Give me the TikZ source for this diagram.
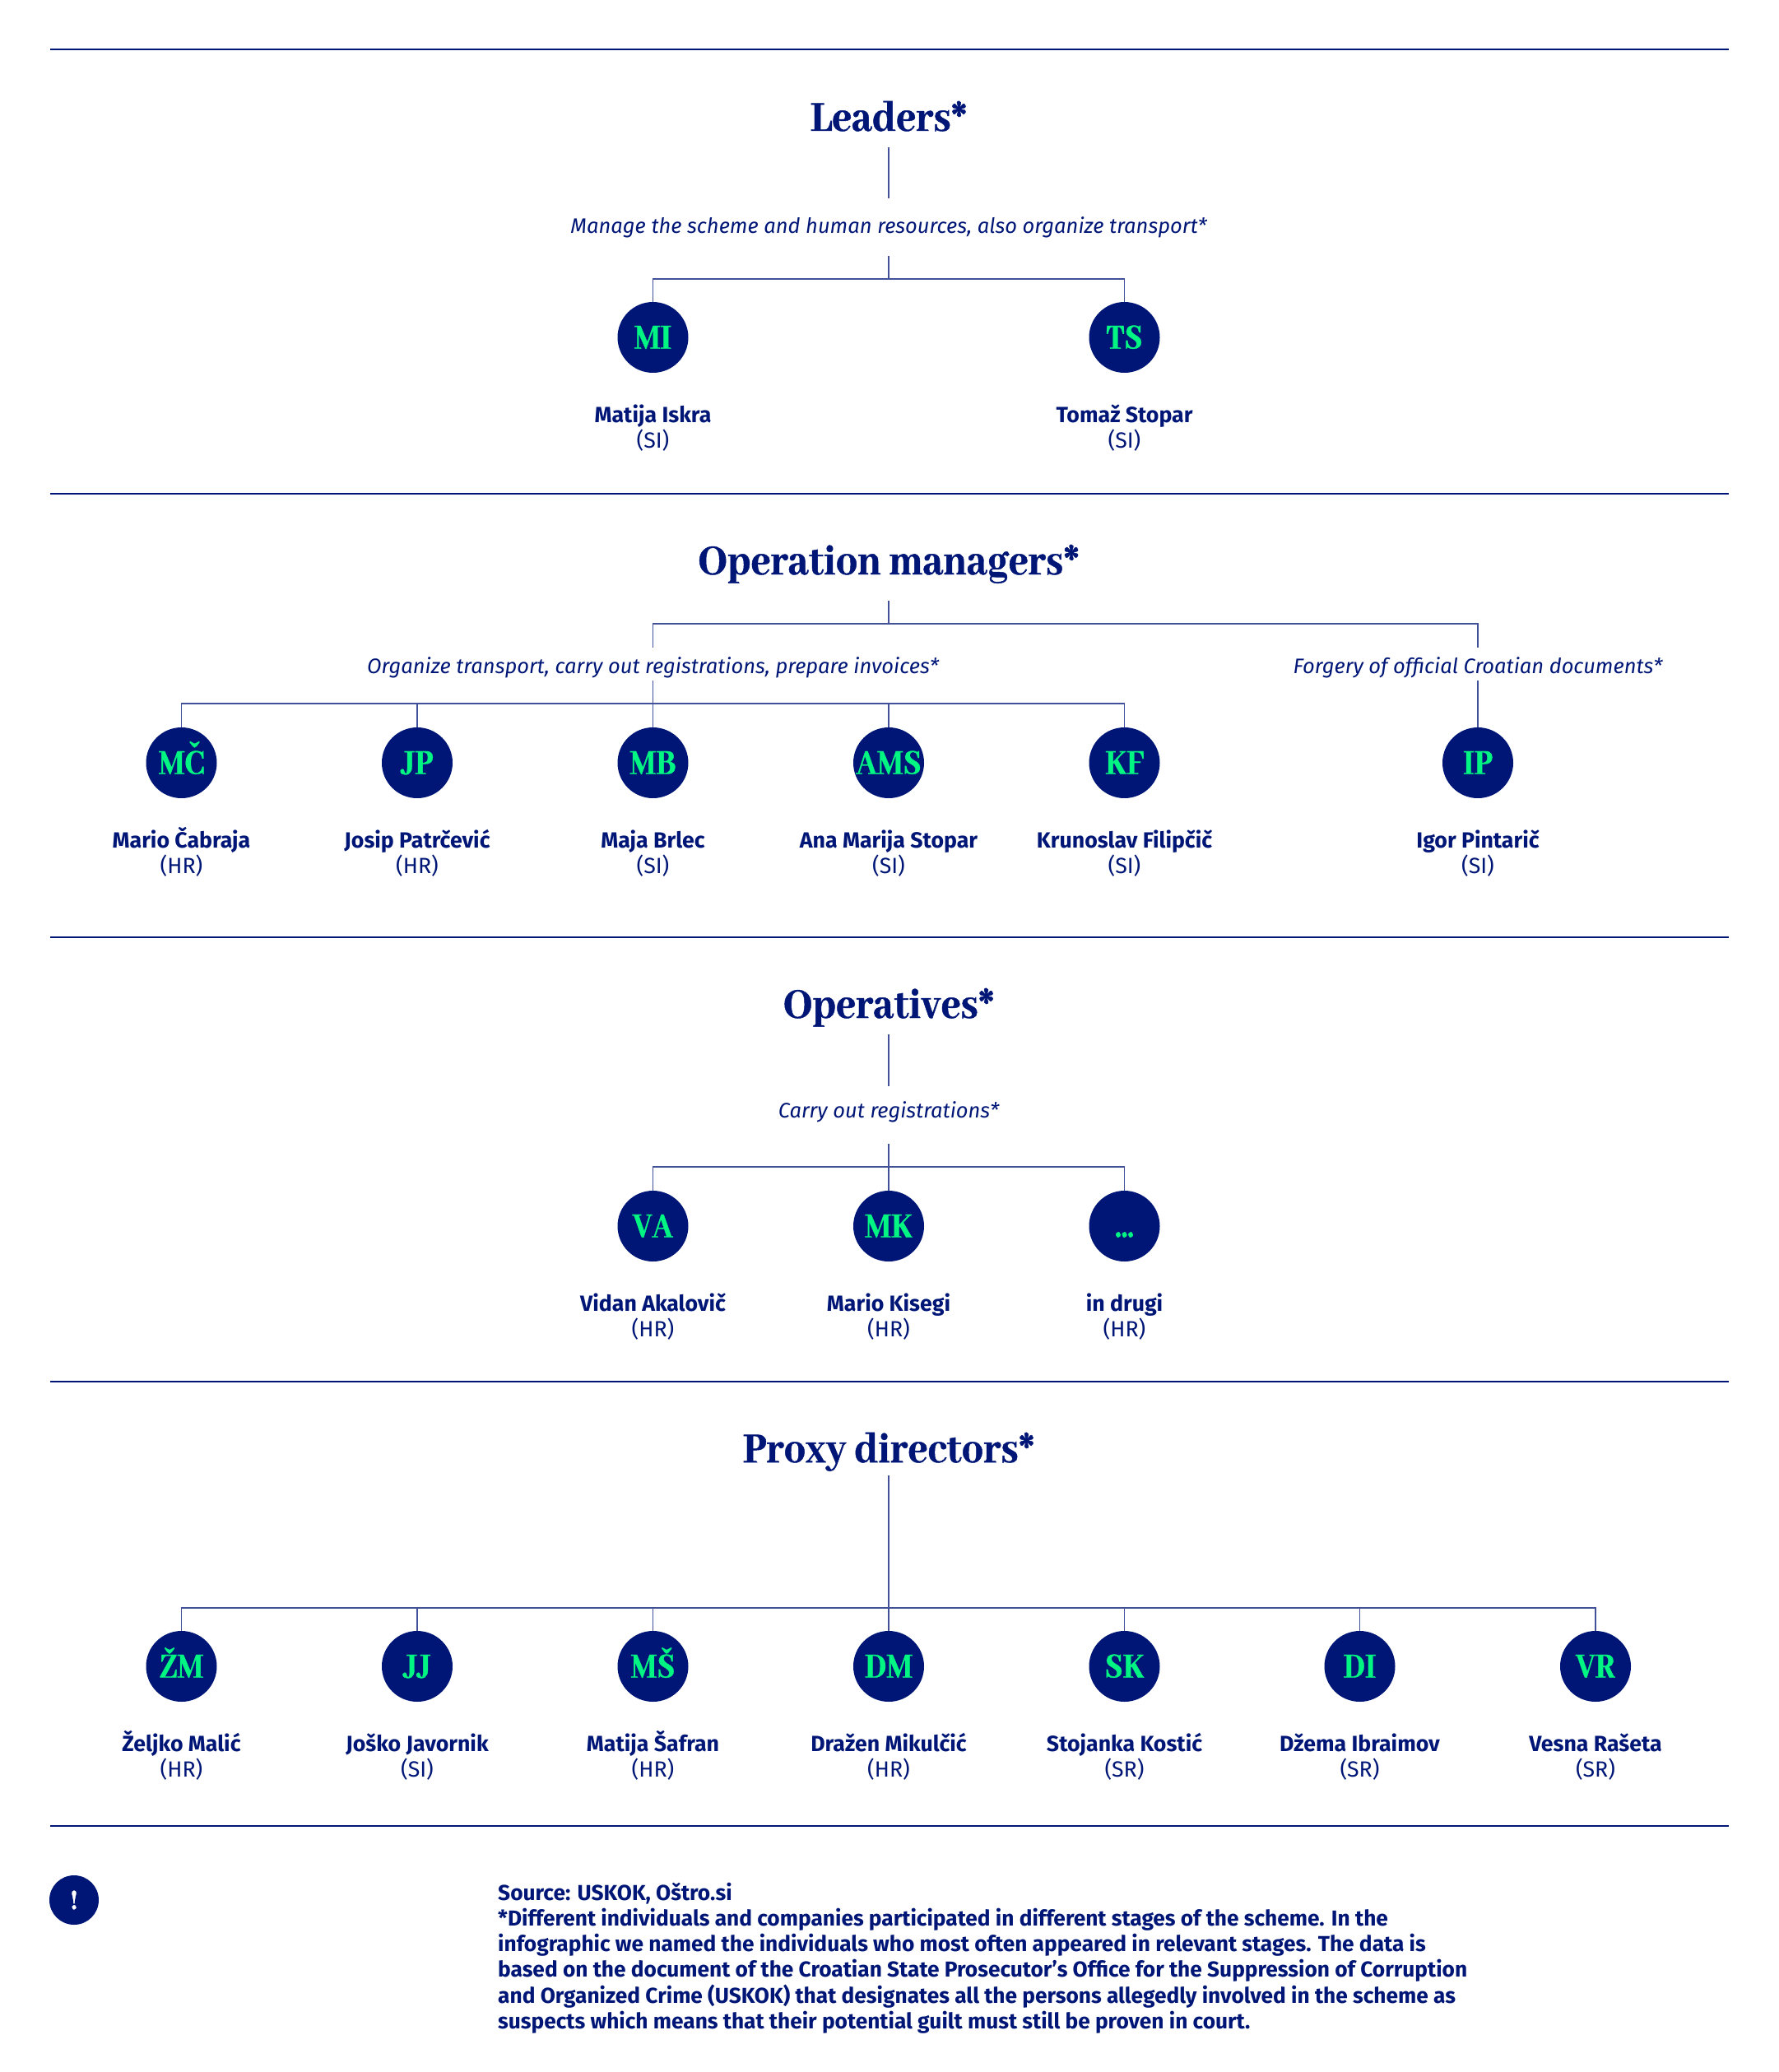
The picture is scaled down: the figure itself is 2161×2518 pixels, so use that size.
\documentclass[tikz,border=0pt]{standalone}
\usepackage{fontspec}
\setmainfont{Fira Sans}
\newfontfamily\dispfont{Abhaya Libre}[BoldFont={* ExtraBold},BoldFeatures={FakeStretch=0.91,FakeBold=0.8}]
\newfontfamily\initfont{Abhaya Libre}[BoldFont={* ExtraBold},BoldFeatures={FakeStretch=0.86,FakeBold=0.8}]
\definecolor{navy}{HTML}{001677}
\definecolor{mint}{HTML}{00F583}
\tikzset{
  rulebar/.style={draw=navy,line width=2.2pt},
  conn/.style={draw=navy!75,line width=1.3pt},
  head/.style={anchor=base,inner sep=0,text=navy,font=\dispfont\bfseries\fontsize{57}{64}\selectfont},
  sub/.style={anchor=base,inner sep=0,text=navy,font=\itshape\fontsize{25.5}{31}\selectfont},
  badge/.style={circle,fill=navy,minimum size=86pt,inner sep=0},
  initials/.style={anchor=base,inner sep=0,text=mint,font=\initfont\bfseries\fontsize{47}{52}\selectfont},
  fullname/.style={anchor=base,inner sep=0,text=navy,font=\bfseries\fontsize{26.7}{31}\selectfont},
  land/.style={anchor=base,inner sep=0,text=navy,font=\fontsize{26.7}{31}\selectfont},
  foot/.style={anchor=north west,inner sep=0,text=navy,align=left,font=\bfseries\fontsize{26.3}{31.1}\selectfont}
}
% id, x, y of circle centre, initials, name, country
\newcommand{\person}[6]{%
  \node[badge] (#1) at (#2,#3) {};
  \path (#1.center) ++(0,13.5) node[initials] (#1i) {#4};
  \path (#1.center) ++(0,103) node[fullname] (#1n) {#5};
  \path (#1.center) ++(0,134) node[land] (#1c) {#6};
}
\begin{document}
\begin{tikzpicture}[x=1pt,y=-1pt]
\useasboundingbox (0,0) rectangle (2161,2518);
% section rules
\foreach \yy/\nn in {60/a,600/b,1139/c,1679/d,2219/e}{
  \coordinate (r\nn l) at (61,\yy);
  \coordinate (r\nn r) at (2101,\yy);
  \draw[rulebar] (r\nn l) -- (r\nn r);
}
% Leaders
\node[head] (h1) at (1080,159) {Leaders*};
\node[sub] (s1) at (1080,283) {Manage the scheme and human resources, also organize transport*};
\coordinate (a1) at (1080,179);
\coordinate (a2) at (1080,241);
\coordinate (a3) at (1080,311);
\coordinate (a4) at (1080,339);
\person{mi}{793.5}{410}{MI}{Matija Iskra}{(SI)}
\person{ts}{1366.5}{410}{TS}{Tomaž Stopar}{(SI)}
\draw[conn] (a1) -- (a2);
\draw[conn] (a3) -- (a4);
\draw[conn] (mi.north) |- (a4) -| (ts.north);
% Operation managers
\node[head] (h2) at (1080,698) {Operation managers*};
\node[sub] (s2) at (793.5,818) {Organize transport, carry out registrations, prepare invoices*};
\node[sub] (s3) at (1796,818) {Forgery of official Croatian documents*};
\coordinate (b1) at (1080,730);
\coordinate (b2) at (1080,758);
\coordinate (b3) at (793.5,787);
\coordinate (b4) at (1796,787);
\coordinate (b5) at (793.5,827);
\coordinate (b6) at (1796,827);
\coordinate (b7) at (793.5,855);
\person{mc}{220.5}{927}{MČ}{Mario Čabraja}{(HR)}
\person{jp}{507}{927}{JP}{Josip Patrčević}{(HR)}
\person{mb}{793.5}{927}{MB}{Maja Brlec}{(SI)}
\person{ams}{1080}{927}{AMS}{Ana Marija Stopar}{(SI)}
\person{kf}{1366.5}{927}{KF}{Krunoslav Filipčič}{(SI)}
\person{ip}{1796}{927}{IP}{Igor Pintarič}{(SI)}
\draw[conn] (b1) -- (b2);
\draw[conn] (b3) |- (b2) -| (b4);
\draw[conn] (b5) -- (mb.north);
\draw[conn] (b6) -- (ip.north);
\draw[conn] (mc.north) |- (b7) -| (kf.north);
\draw[conn] (jp.north) |- (b7);
\draw[conn] (ams.north) |- (b7);
% Operatives
\node[head] (h3) at (1080,1237) {Operatives*};
\node[sub] (s4) at (1080,1358) {Carry out registrations*};
\coordinate (c1) at (1080,1257);
\coordinate (c2) at (1080,1320);
\coordinate (c3) at (1080,1390);
\coordinate (c4) at (1080,1418);
\person{va}{793.5}{1490}{VA}{Vidan Akalovič}{(HR)}
\person{mk}{1080}{1490}{MK}{Mario Kisegi}{(HR)}
\person{dd}{1366.5}{1490}{...}{in drugi}{(HR)}
\draw[conn] (c1) -- (c2);
\draw[conn] (c3) -- (mk.north);
\draw[conn] (va.north) |- (c4) -| (dd.north);
% Proxy directors
\node[head] (h4) at (1080,1777) {Proxy directors*};
\coordinate (d1) at (1080,1793);
\coordinate (d2) at (1080,1954);
\person{zm}{220.5}{2025}{ŽM}{Željko Malić}{(HR)}
\person{jj}{507}{2025}{JJ}{Joško Javornik}{(SI)}
\person{ms}{793.5}{2025}{MŠ}{Matija Šafran}{(HR)}
\person{dm}{1080}{2025}{DM}{Dražen Mikulčić}{(HR)}
\person{sk}{1366.5}{2025}{SK}{Stojanka Kostić}{(SR)}
\person{di}{1652.5}{2025}{DI}{Džema Ibraimov}{(SR)}
\person{vr}{1939}{2025}{VR}{Vesna Rašeta}{(SR)}
\draw[conn] (d1) -- (dm.north);
\draw[conn] (zm.north) |- (d2) -| (vr.north);
\draw[conn] (jj.north) |- (d2);
\draw[conn] (ms.north) |- (d2);
\draw[conn] (sk.north) |- (d2);
\draw[conn] (di.north) |- (d2);
% footer
\node[circle,fill=navy,minimum size=60pt,inner sep=0,text=white,font=\dispfont\bfseries\fontsize{38}{42}\selectfont] (ex) at (90,2309) {!};
\node[foot] (src) at (605,2288) {Source: USKOK, Oštro.si\\
*Different individuals and companies participated in different stages of the scheme. In the\\
infographic we named the individuals who most often appeared in relevant stages. The data is\\
based on the document of the Croatian State Prosecutor's Office for the Suppression of Corruption\\
and Organized Crime (USKOK) that designates all the persons allegedly involved in the scheme as\\
suspects which means that their potential guilt must still be proven in court.};
\end{tikzpicture}
\end{document}
